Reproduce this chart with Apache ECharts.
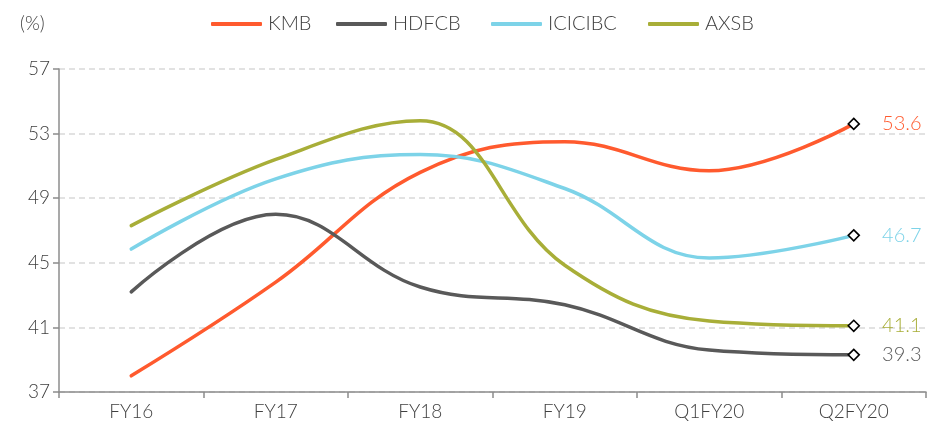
<!DOCTYPE html>
<html><head><meta charset="utf-8">
<script src="https://cdn.jsdelivr.net/npm/echarts@6/dist/echarts.min.js"></script>
<style>html,body{margin:0;padding:0;background:#fff}#c{width:939px;height:434px}</style>
</head><body><div id="c"></div>
<script>
const categories = ['FY16','FY17','FY18','FY19','Q1FY20','Q2FY20'];
const kmb     = [38.0, 43.8, 50.6, 52.5, 50.7, 53.6];
const hdfcb   = [43.2, 48.0, 43.5, 42.4, 39.6, 39.3];
const icicibc = [45.85, 50.2, 51.7, 49.6, 45.3, 46.7];
const axsb    = [47.3, 51.4, 53.8, 44.85, 41.4, 41.1];
const seriesNames = ['KMB','HDFCB','ICICIBC','AXSB'];
const yTicks = [37, 41, 45, 49, 53, 57];

const colors = ['#FF5A2E', '#595959', '#7DD3E8', '#A8AE38'];
const labelColors = ['#FF5A2E', '#595959', '#7DD3E8', '#A8AE38'];
const legendLefts = [206, 331, 486, 643];
const FONT = 'Lato';
const FW = 300;

function build(name, vals, idx) {
  const last = vals.length - 1;
  return {
    name: name, type: 'line', smooth: 0.4,
    symbol: 'none', showSymbol: true,
    lineStyle: {color: colors[idx], width: 3.5, cap: 'round'},
    itemStyle: {color: colors[idx]},
    emphasis: {disabled: true},
    data: vals.map((v, i) => i === last ? {
      value: v, symbol: 'diamond', symbolSize: 11,
      itemStyle: {color: '#fff', borderColor: '#000', borderWidth: 1.6},
      label: {show: true, position: 'right', distance: 22, color: labelColors[idx],
              fontFamily: FONT, fontWeight: FW, fontSize: 20, formatter: (p) => p.value.toFixed(1)}
    } : v)
  };
}

const chart = echarts.init(document.getElementById('c'));
chart.setOption({
  animation: false,
  backgroundColor: '#fff',
  color: colors,
  grid: {left: 59, right: 13, top: 69, bottom: 42},
  title: {text: '(%)', left: 15, top: 9, textStyle: {fontFamily: FONT, fontSize: 19, fontWeight: FW, color: '#404040'}},
  legend: seriesNames.map((n, i) => ({
    data: [n], left: legendLefts[i], top: 9, itemWidth: 51, itemHeight: 4,
    icon: 'roundRect',
    textStyle: {fontFamily: FONT, fontSize: 20, fontWeight: FW, color: '#404040', padding: [0,0,0,1]}
  })),
  xAxis: {
    type: 'category', data: categories, boundaryGap: true,
    axisLine: {lineStyle: {color: '#8c8c8c', width: 1.5}},
    axisTick: {show: true, length: 6, lineStyle: {color: '#8c8c8c', width: 1.5}},
    axisLabel: {fontFamily: FONT, fontWeight: FW, fontSize: 19, color: '#404040', margin: 10}
  },
  yAxis: {
    type: 'value', min: yTicks[0], max: yTicks[yTicks.length-1], interval: 4,
    axisLine: {show: true, lineStyle: {color: '#8c8c8c', width: 1.5}},
    axisTick: {show: true, length: 6, lineStyle: {color: '#8c8c8c', width: 1.5}},
    axisLabel: {fontFamily: FONT, fontWeight: FW, fontSize: 19, color: '#404040', margin: 9},
    splitLine: {lineStyle: {color: '#d9d9d9', width: 1.5, type: [6, 4]}}
  },
  series: [build('KMB', kmb, 0), build('HDFCB', hdfcb, 1), build('ICICIBC', icicibc, 2), build('AXSB', axsb, 3)]
});
</script></body></html>
